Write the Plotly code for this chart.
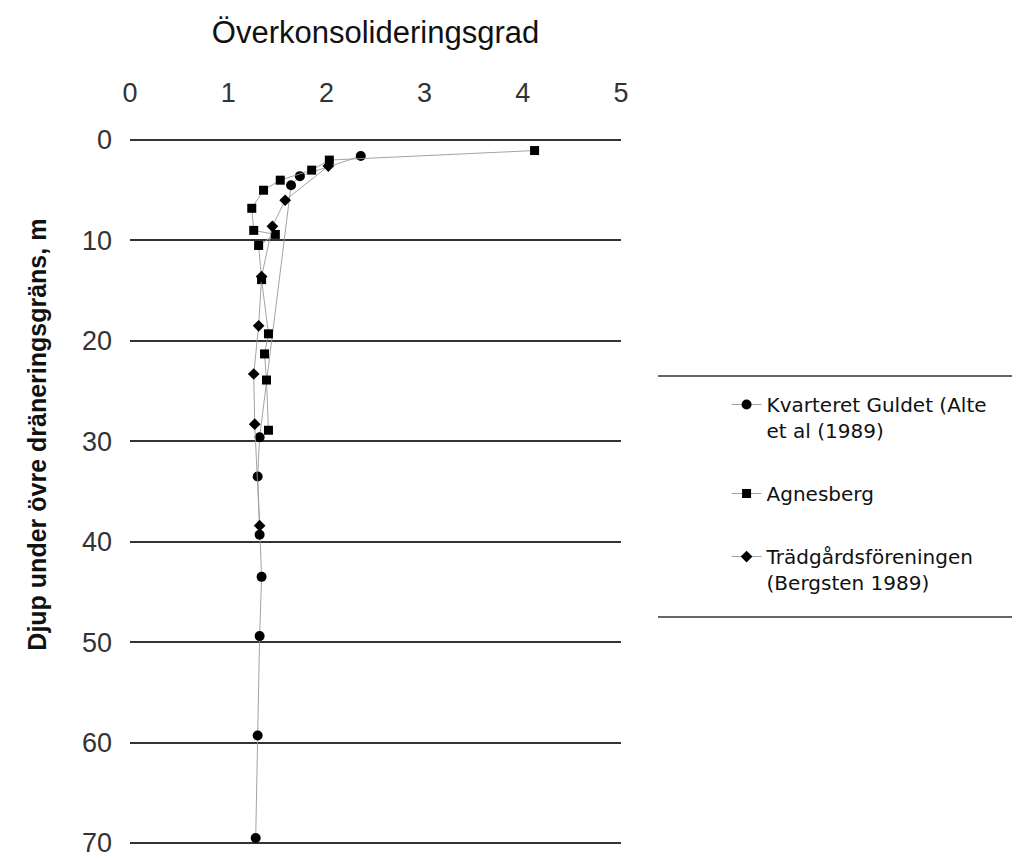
import plotly.graph_objects as go

# Överkonsolideringsgrad (x) vs depth (y, m)
guldet_ocr = [2.35, 1.73, 1.64, 1.32, 1.30, 1.32, 1.34, 1.32, 1.30, 1.28]
guldet_depth = [1.6, 3.6, 4.5, 29.6, 33.5, 39.3, 43.5, 49.4, 59.3, 69.5]

agnes_ocr = [4.12, 2.03, 1.85, 1.53, 1.36, 1.24, 1.26, 1.48, 1.31, 1.34, 1.41, 1.37, 1.39, 1.41]
agnes_depth = [1.05, 2.0, 3.0, 4.0, 5.0, 6.8, 9.0, 9.4, 10.5, 13.9, 19.3, 21.3, 23.9, 28.9]

tradg_ocr = [2.02, 1.58, 1.45, 1.34, 1.31, 1.26, 1.27, 1.32]
tradg_depth = [2.6, 6.0, 8.6, 13.6, 18.5, 23.3, 28.3, 38.4]

names = ["Kvarteret Guldet (Alte<br>et al (1989)", "Agnesberg",
         "Trädgårdsföreningen<br>(Bergsten 1989)"]
x_ticks = [0, 1, 2, 3, 4, 5]
y_ticks = [0, 10, 20, 30, 40, 50, 60, 70]

fig = go.Figure()
series = [
    (guldet_ocr, guldet_depth, names[0], "circle", 10),
    (agnes_ocr, agnes_depth, names[1], "square", 9),
    (tradg_ocr, tradg_depth, names[2], "diamond", 9),
]
for i, (xv, yv, nm, sym, sz) in enumerate(series):
    fig.add_trace(go.Scatter(
        x=xv, y=yv, name=nm, mode="lines+markers", legendgroup=f"g{i}",
        line=dict(color="#999999", width=0.9),
        marker=dict(symbol=sym, size=sz, color="black"),
    ))

# page has an 8px body margin; figure is shifted accordingly
W, H = 1012, 852
L, T = 122, 130
PW, PH = 491, 707
fig.update_layout(
    width=W, height=H,
    paper_bgcolor="white", plot_bgcolor="white",
    margin=dict(l=L, r=W - L - PW, t=T, b=H - T - PH, autoexpand=False),
    font=dict(family="Liberation Sans", color="#111"),
    showlegend=True,
    legend=dict(
        x=1.215, y=0.6506, xanchor="left", yanchor="top",
        font=dict(family="DejaVu Sans", size=20, color="#111"),
        valign="top", tracegroupgap=34,
        bgcolor="rgba(0,0,0,0)", borderwidth=0,
    ),
    shapes=[
        dict(type="line", xref="paper", yref="paper", x0=1.0754, x1=1.802,
             y0=0.6634, y1=0.6634, line=dict(color="#333", width=1.5)),
        dict(type="line", xref="paper", yref="paper", x0=1.0754, x1=1.80,
             y0=0.3225, y1=0.3225, line=dict(color="#333", width=1.5)),
    ],
    annotations=[
        dict(text="<b>Djup under övre dräneringsgräns, m</b>", textangle=-90,
             xref="paper", yref="paper", x=-0.19, y=0.58,
             xanchor="center", yanchor="middle", showarrow=False,
             font=dict(family="Liberation Sans", size=25, color="#111")),
    ],
)
fig.update_xaxes(
    side="top", range=[0, 5], tickvals=x_ticks, showgrid=False, zeroline=False,
    showline=False, ticks="", ticklabelstandoff=30, automargin=False,
    tickfont=dict(family="Liberation Sans", size=27, color="#333"),
    title=dict(text="Överkonsolideringsgrad", standoff=24,
               font=dict(family="Liberation Sans", size=31, color="#111")),
)
fig.update_yaxes(
    range=[70.2, -0.2], tickvals=y_ticks, showgrid=True, gridcolor="#333", gridwidth=1.5,
    zeroline=False, showline=False, ticks="", ticklabelstandoff=17,
    ticklabeloverflow="allow", automargin=False,
    tickfont=dict(family="Liberation Sans", size=27, color="#333"),
)
fig.write_html("out.html")
